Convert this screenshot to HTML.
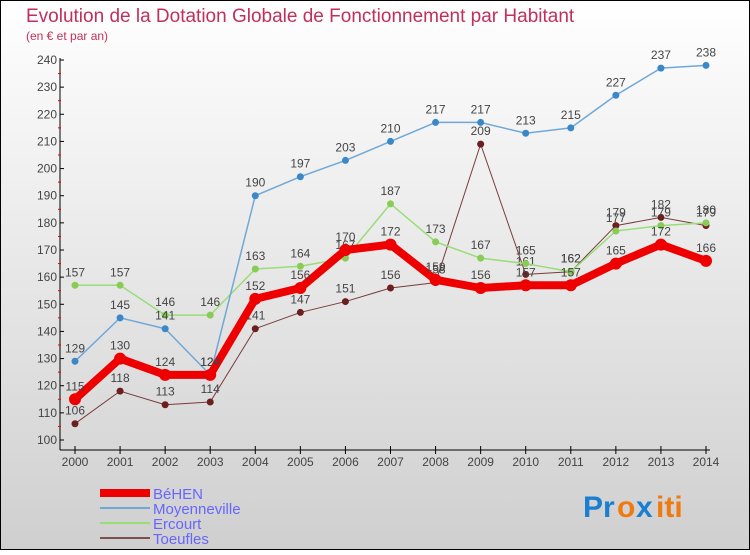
<!DOCTYPE html>
<html><head><meta charset="utf-8"><style>
body{margin:0}
svg text{font-family:"Liberation Sans",sans-serif}
</style></head><body>
<svg width="750" height="550" viewBox="0 0 750 550" xmlns="http://www.w3.org/2000/svg">
<defs><linearGradient id="bg" x1="0" y1="0" x2="0" y2="1"><stop offset="0" stop-color="#ffffff"/><stop offset="1" stop-color="#cfcfcf"/></linearGradient></defs>
<rect x="0.5" y="0.5" width="749" height="549" fill="url(#bg)" stroke="#000"/>
<text x="26" y="22" font-size="19" fill="#c0305a">Evolution de la Dotation Globale de Fonctionnement par Habitant</text>
<text x="26" y="40" font-size="12" fill="#c0305a">(en € et par an)</text>
<g id="axes"></g><g id="series"></g><g id="legend"></g>
<g font-size="30" font-weight="bold">
<text x="583" y="517" fill="#1a7fd0">Pr</text><text x="617" y="517" fill="#f07a10">o</text><text x="636" y="517" fill="#1a7fd0">x</text><text x="656" y="517" fill="#f07a10">iti</text>
</g>
</svg>
<script>
const years=[2000,2001,2002,2003,2004,2005,2006,2007,2008,2009,2010,2011,2012,2013,2014];
const behen=[115,130,124,124,152,156,170,172,159,156,157,157,165,172,166];
const moyenneville=[129,145,141,124,190,197,203,210,217,217,213,215,227,237,238];
const ercourt=[157,157,146,146,163,164,167,187,173,167,165,162,177,179,180];
const toeufles=[106,118,113,114,141,147,151,156,158,209,161,162,179,182,179];
const yTicks=[100,110,120,130,140,150,160,170,180,190,200,210,220,230,240];
const NS="http://www.w3.org/2000/svg";
const X=i=>75+i*(706-75)/(years.length-1);
const Y=v=>440-(v-100)*(380/140);
function el(t,a,p){const e=document.createElementNS(NS,t);for(const k in a)e.setAttribute(k,a[k]);p.appendChild(e);return e;}
const axes=document.getElementById('axes');
const ya=el('line',{x1:60,y1:58,x2:60,y2:450,stroke:'#000'},axes);


const xa=el('line',{x1:60,y1:450,x2:710,y2:450,stroke:'#000'},axes);


yTicks.forEach(v=>{
  el('line',{x1:60,y1:Y(v),x2:64,y2:Y(v),stroke:'#000'},axes);
  if(v<240)el('line',{x1:58,y1:Y(v+5),x2:61,y2:Y(v+5),stroke:'#e00'},axes);
  const t=el('text',{x:57,y:Y(v)+4,'font-size':12,'text-anchor':'end',fill:'#444'},axes);t.textContent=v;
  
  
});
years.forEach((y,i)=>{
  el('line',{x1:X(i),y1:446,x2:X(i),y2:454,stroke:'#000'},axes);
  const t=el('text',{x:X(i),y:466,'font-size':12,'text-anchor':'middle',fill:'#444'},axes);t.textContent=y;
  
  
});
const series=[
 {name:'toeufles',data:toeufles,c:'#7a3a3a',w:1,dot:'#6b1f1f',r:3.5},
 {name:'ercourt',data:ercourt,c:'#99dd77',w:1.5,dot:'#88cc55',r:3.5},
 {name:'moyenneville',data:moyenneville,c:'#6fa8d8',w:1.5,dot:'#3a88c8',r:3.5},
 {name:'behen',data:behen,c:'#ee0000',w:8,dot:'#ee0000',r:6}
];
const sg=document.getElementById('series');
series.forEach(s=>{
  const g=el('g',{},sg);
  
  
  const p=el('polyline',{points:s.data.map((v,i)=>X(i)+','+Y(v)).join(' '),fill:'none',stroke:s.c,'stroke-width':s.w,'stroke-linejoin':'round'},g);
  
  
  s.data.forEach((v,i)=>{
    const c=el('circle',{cx:X(i),cy:Y(v),r:s.r,fill:s.dot},g);
    
    
    const t=el('text',{x:X(i),y:Y(v)-9,'font-size':12,'text-anchor':'middle',fill:'#444'},g);t.textContent=v;
    
    
  });
});
const lg=document.getElementById('legend');
[['BéHEN','#ee0000',8],['Moyenneville','#6fa8d8',2],['Ercourt','#99dd77',2],['Toeufles','#7a5050',2]].forEach((e,i)=>{
  const y=493+i*15;
  const g=el('g',{},lg);
  
  
  el('line',{x1:100,y1:y,x2:150,y2:y,stroke:e[1],'stroke-width':e[2]},g);
  const t=el('text',{x:153,y:y+6,'font-size':15,fill:'#6666ff'},g);t.textContent=e[0];
});
</script>
</body></html>
